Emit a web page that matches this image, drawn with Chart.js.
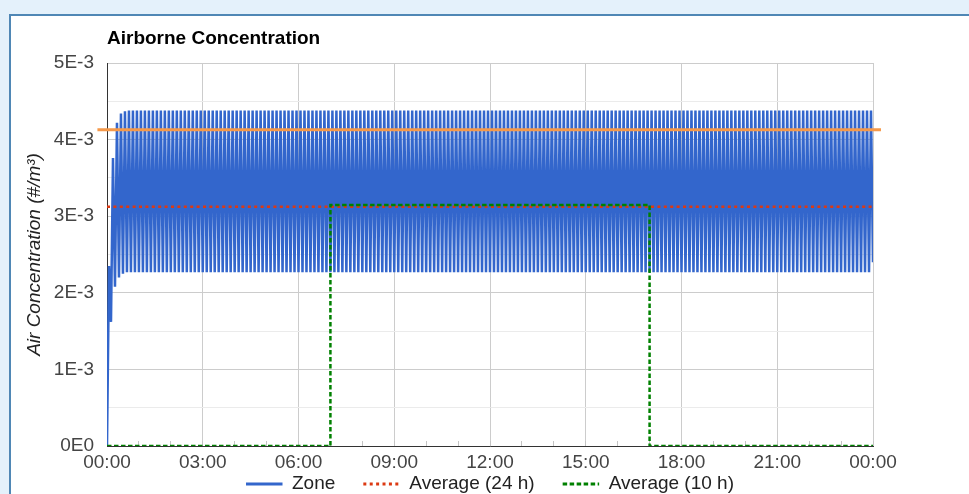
<!DOCTYPE html>
<html>
<head>
<meta charset="utf-8">
<title>Airborne Concentration</title>
<style>
  html, body { margin: 0; padding: 0; width: 969px; height: 494px; overflow: hidden; background: #e4f1fb; }
  #card { position: absolute; left: 9px; top: 14px; width: 990px; height: 520px; background: #fff;
          border-left: 2px solid #4f87b5; border-top: 2px solid #4f87b5; }
  #wrap { position: absolute; left: 0; top: 0; width: 969px; height: 520px; }
</style>
<script src="https://cdn.jsdelivr.net/npm/chart.js@4.4.1/dist/chart.umd.min.js"></script>
</head>
<body>
<div id="card"></div>
<div id="wrap"><canvas id="chart" width="969" height="520" style="width:969px;height:520px"></canvas></div>
<script>
// Zone concentration, in 10^-3 #/m^3, sampled evenly over 24 h (peak / trough alternating)
const zoneValues = [
  0, 2.35, 1.62, 3.76, 2.08, 4.22, 2.20, 4.34, 2.25, 4.37, 2.27,
  4.38, 2.27, 4.38, 2.27, 4.38, 2.27, 4.38, 2.27, 4.38, 2.27, 4.38, 2.27, 4.38, 2.27, 4.38, 2.27, 4.38, 2.27, 4.38, 2.27,
  4.38, 2.27, 4.38, 2.27, 4.38, 2.27, 4.38, 2.27, 4.38, 2.27, 4.38, 2.27, 4.38, 2.27, 4.38, 2.27, 4.38, 2.27, 4.38, 2.27,
  4.38, 2.27, 4.38, 2.27, 4.38, 2.27, 4.38, 2.27, 4.38, 2.27, 4.38, 2.27, 4.38, 2.27, 4.38, 2.27, 4.38, 2.27, 4.38, 2.27,
  4.38, 2.27, 4.38, 2.27, 4.38, 2.27, 4.38, 2.27, 4.38, 2.27, 4.38, 2.27, 4.38, 2.27, 4.38, 2.27, 4.38, 2.27, 4.38, 2.27,
  4.38, 2.27, 4.38, 2.27, 4.38, 2.27, 4.38, 2.27, 4.38, 2.27, 4.38, 2.27, 4.38, 2.27, 4.38, 2.27, 4.38, 2.27, 4.38, 2.27,
  4.38, 2.27, 4.38, 2.27, 4.38, 2.27, 4.38, 2.27, 4.38, 2.27, 4.38, 2.27, 4.38, 2.27, 4.38, 2.27, 4.38, 2.27, 4.38, 2.27,
  4.38, 2.27, 4.38, 2.27, 4.38, 2.27, 4.38, 2.27, 4.38, 2.27, 4.38, 2.27, 4.38, 2.27, 4.38, 2.27, 4.38, 2.27, 4.38, 2.27,
  4.38, 2.27, 4.38, 2.27, 4.38, 2.27, 4.38, 2.27, 4.38, 2.27, 4.38, 2.27, 4.38, 2.27, 4.38, 2.27, 4.38, 2.27, 4.38, 2.27,
  4.38, 2.27, 4.38, 2.27, 4.38, 2.27, 4.38, 2.27, 4.38, 2.27, 4.38, 2.27, 4.38, 2.27, 4.38, 2.27, 4.38, 2.27, 4.38, 2.27,
  4.38, 2.27, 4.38, 2.27, 4.38, 2.27, 4.38, 2.27, 4.38, 2.27, 4.38, 2.27, 4.38, 2.27, 4.38, 2.27, 4.38, 2.27, 4.38, 2.27,
  4.38, 2.27, 4.38, 2.27, 4.38, 2.27, 4.38, 2.27, 4.38, 2.27, 4.38, 2.27, 4.38, 2.27, 4.38, 2.27, 4.38, 2.27, 4.38, 2.27,
  4.38, 2.27, 4.38, 2.27, 4.38, 2.27, 4.38, 2.27, 4.38, 2.27, 4.38, 2.27, 4.38, 2.27, 4.38, 2.27, 4.38, 2.27, 4.38, 2.27,
  4.38, 2.27, 4.38, 2.27, 4.38, 2.27, 4.38, 2.27, 4.38, 2.27, 4.38, 2.27, 4.38, 2.27, 4.38, 2.27, 4.38, 2.27, 4.38, 2.27,
  4.38, 2.27, 4.38, 2.27, 4.38, 2.27, 4.38, 2.27, 4.38, 2.27, 4.38, 2.27, 4.38, 2.27, 4.38, 2.27, 4.38, 2.27, 4.38, 2.27,
  4.38, 2.27, 4.38, 2.27, 4.38, 2.27, 4.38, 2.27, 4.38, 2.27, 4.38, 2.27, 4.38, 2.27, 4.38, 2.27, 4.38, 2.27, 4.38, 2.27,
  4.38, 2.27, 4.38, 2.27, 4.38, 2.27, 4.38, 2.27, 4.38, 2.27, 4.38, 2.27, 4.38, 2.27, 4.38, 2.27, 4.38, 2.27, 4.38, 2.27,
  4.38, 2.27, 4.38, 2.27, 4.38, 2.27, 4.38, 2.27, 4.38, 2.27, 4.38, 2.27, 4.38, 2.27, 4.38, 2.27, 4.38, 2.27, 4.38, 2.27,
  4.38, 2.27, 4.38, 2.27, 4.38, 2.27, 4.38, 2.27, 4.38, 2.27, 4.38, 2.27, 4.38, 2.27, 4.38, 2.27, 4.38, 2.27, 4.38, 2.27,
  4.38, 2.27, 4.38, 2.27, 4.38, 2.27, 4.38, 2.27, 4.38, 2.27, 4.38, 2.27,
  4.38, 2.40
];

// 24 h running average (10^-3 #/m^3)
const avg24Hours = [0, 24];
const avg24Values = [3.125, 3.125];

// 10 h occupied-period average (10^-3 #/m^3), 07:00 to 17:00
const avg10Hours = [0, 7, 7, 17, 17, 24];
const avg10Values = [0, 0, 3.145, 3.145, 0, 0];

// Reference level line (10^-3 #/m^3)
const refHours = [-0.3, 24.25];
const refValues = [4.13, 4.13];

const seriesLabels = ['Zone', 'Average (24 h)', 'Average (10 h)'];
const hourTicks = [0, 3, 6, 9, 12, 15, 18, 21, 24];

const zoneHours = zoneValues.map((_, i) => i * 24 / (zoneValues.length - 1));
const toPoints = (xs, ys) => xs.map((x, i) => ({ x, y: ys[i] }));

const FONT = "'Liberation Sans', Arial, sans-serif";
const pad2 = n => String(n).padStart(2, '0');

new Chart(document.getElementById('chart'), {
  type: 'line',
  data: {
    datasets: [
      { label: seriesLabels[0], data: toPoints(zoneHours, zoneValues), borderColor: '#3366cc',
        backgroundColor: '#3366cc', borderWidth: 2.5, pointRadius: 0, order: 4 },
      { label: seriesLabels[1], data: toPoints(avg24Hours, avg24Values), borderColor: '#dc3912',
        backgroundColor: '#dc3912', borderWidth: 2.5, borderDash: [3, 3.4], pointRadius: 0, order: 3 },
      { label: seriesLabels[2], data: toPoints(avg10Hours, avg10Values), borderColor: '#008000',
        backgroundColor: '#008000', borderWidth: 2.5, borderDash: [4.5, 2.5], pointRadius: 0, order: 2 },
      { label: '', data: toPoints(refHours, refValues), borderColor: '#f5994a',
        borderWidth: 3, pointRadius: 0, clip: false, order: 1 }
    ]
  },
  options: {
    responsive: false,
    animation: false,
    events: [],
    devicePixelRatio: 1,
    layout: { padding: { top: 0, left: 0, right: 96, bottom: 16.5 } },
    elements: { line: { tension: 0, borderCapStyle: 'butt' } },
    scales: {
      x: {
        type: 'linear', min: 0, max: 24,
        afterFit: s => { s.height = 0.5; },
        border: { display: true, color: '#333', width: 1 },
        grid: {
          drawTicks: true, tickLength: -5,
          color: c => (c.tick && hourTicks.includes(c.tick.value)) ? '#cccccc' : 'rgba(0,0,0,0)',
          tickColor: '#c4c4c4'
        },
        ticks: {
          stepSize: 1, maxTicksLimit: 30, autoSkip: false, maxRotation: 0,
          mirror: true, padding: -28.4,
          color: '#444', font: { family: FONT, size: 19 },
          callback: v => hourTicks.includes(v) ? pad2(v % 24) + ':00' : ''
        }
      },
      y: {
        type: 'linear', min: 0, max: 5,
        afterFit: s => { s.width = 107; },
        border: { display: true, color: '#333', width: 1 },
        grid: {
          drawTicks: false,
          color: c => (c.tick && Math.round(c.tick.value * 2) % 2 === 0) ? '#cccccc' : '#ebebeb'
        },
        ticks: {
          stepSize: 0.5, maxTicksLimit: 20, padding: 13, color: '#444', font: { family: FONT, size: 19 },
          callback: v => {
            const h = Math.round(v * 2);
            if (h % 2) return '';
            return h === 0 ? '0E0' : (h / 2) + 'E-3';
          }
        },
        title: {
          display: true, text: 'Air Concentration (#/m³)', color: '#222',
          font: { family: FONT, size: 19, style: 'italic' }, padding: { top: 23, bottom: 0 }
        }
      }
    },
    plugins: {
      tooltip: { enabled: false },
      title: {
        display: true, text: 'Airborne Concentration', align: 'start', fullSize: false,
        color: '#000', font: { family: FONT, size: 19, weight: 'bold' },
        padding: { top: 27, bottom: 13.2 }
      },
      legend: {
        position: 'bottom', fullSize: false,
        labels: {
          usePointStyle: true, pointStyle: 'line', pointStyleWidth: 36.5,
          padding: 28, color: '#222', font: { family: FONT, size: 19 },
          sort: (a, b) => a.datasetIndex - b.datasetIndex,
          generateLabels: chart => {
            const base = Chart.defaults.plugins.legend.labels.generateLabels(chart);
            return base
              .filter(item => item.text !== '')
              .map(item => {
                const ds = chart.data.datasets[item.datasetIndex];
                item.strokeStyle = ds.borderColor;
                item.lineDash = ds.borderDash || [];
                item.lineWidth = 3;
                return item;
              });
          }
        }
      }
    }
  }
});
</script>
</body>
</html>
